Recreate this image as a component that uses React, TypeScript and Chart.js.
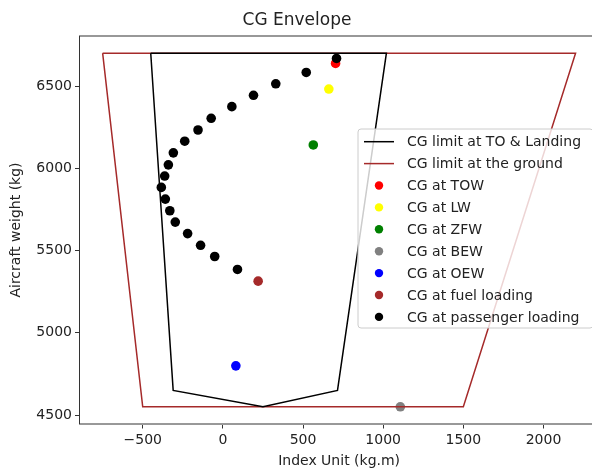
import React, { useEffect, useRef } from "react";
import { Chart, registerables } from "chart.js";

Chart.register(...registerables);

// ---- Data ----
const toLimitX = [-450, -310, 250, 715, 1020, -450];
const toLimitY = [6700, 4650, 4550, 4650, 6700, 6700];

const groundLimitX = [-750, -500, 1500, 2200, -750];
const groundLimitY = [6700, 4550, 4550, 6700, 6700];

const passengerX = [709, 520, 330, 191, 56, -73, -155, -238, -309, -340, -363, -384, -359, -331, -297, -220, -139, -51, 91];
const passengerY = [6668, 6583, 6514, 6444, 6375, 6304, 6233, 6165, 6094, 6021, 5953, 5884, 5813, 5742, 5673, 5603, 5532, 5464, 5385];

const towPoint = [703, 6638];
const lwPoint = [661, 6482];
const zfwPoint = [564, 6142];
const bewPoint = [1107, 4550];
const oewPoint = [81, 4799];
const fuelPoint = [220, 5314];

const xTicks = [-500, 0, 500, 1000, 1500, 2000];
const yTicks = [4500, 5000, 5500, 6000, 6500];

const FONT = "'DejaVu Sans', sans-serif";

const zip = (xs: number[], ys: number[]) => xs.map((x, i) => ({ x, y: ys[i] }));
const fmt = (v: number) => (v < 0 ? "\u2212" + String(Math.abs(v)) : String(v));

type LegendItem = { label: string; color: string; kind: "line" | "dot" };

const legendItems: LegendItem[] = [
  { label: "CG limit at TO & Landing", color: "#000000", kind: "line" },
  { label: "CG limit at the ground", color: "#a52a2a", kind: "line" },
  { label: "CG at TOW", color: "#ff0000", kind: "dot" },
  { label: "CG at LW", color: "#ffff00", kind: "dot" },
  { label: "CG at ZFW", color: "#008000", kind: "dot" },
  { label: "CG at BEW", color: "#808080", kind: "dot" },
  { label: "CG at OEW", color: "#0000ff", kind: "dot" },
  { label: "CG at fuel loading", color: "#a52a2a", kind: "dot" },
  { label: "CG at passenger loading", color: "#000000", kind: "dot" },
];

const decorPlugin = {
  id: "decor",
  afterDraw(chart: any) {
    const ctx = chart.ctx;
    const a = chart.chartArea;
    ctx.save();
    // spines
    ctx.strokeStyle = "#333";
    ctx.lineWidth = 1;
    ctx.strokeRect(a.left + 0.5, a.top + 0.5, a.right - a.left - 1, a.bottom - a.top - 1);

    // title
    ctx.fillStyle = "#222";
    ctx.font = `17px ${FONT}`;
    ctx.textAlign = "center";
    ctx.textBaseline = "middle";
    ctx.fillText("CG Envelope", 297, 21);

    // legend
    const boxLeft = a.left + 279;
    const boxTop = a.top + 93.5;
    const boxW = 235;
    const rowH = 21.9;
    const boxH = 199;
    ctx.beginPath();
    const r = 3;
    ctx.moveTo(boxLeft + r, boxTop);
    ctx.lineTo(boxLeft + boxW - r, boxTop);
    ctx.arcTo(boxLeft + boxW, boxTop, boxLeft + boxW, boxTop + r, r);
    ctx.lineTo(boxLeft + boxW, boxTop + boxH - r);
    ctx.arcTo(boxLeft + boxW, boxTop + boxH, boxLeft + boxW - r, boxTop + boxH, r);
    ctx.lineTo(boxLeft + r, boxTop + boxH);
    ctx.arcTo(boxLeft, boxTop + boxH, boxLeft, boxTop + boxH - r, r);
    ctx.lineTo(boxLeft, boxTop + r);
    ctx.arcTo(boxLeft, boxTop, boxLeft + r, boxTop, r);
    ctx.closePath();
    ctx.fillStyle = "rgba(255,255,255,0.8)";
    ctx.fill();
    ctx.strokeStyle = "#cccccc";
    ctx.lineWidth = 1;
    ctx.stroke();

    ctx.font = `14px ${FONT}`;
    ctx.textAlign = "left";
    ctx.textBaseline = "middle";
    legendItems.forEach((it, i) => {
      const cy = boxTop + 12.7 + i * rowH;
      if (it.kind === "line") {
        ctx.strokeStyle = it.color;
        ctx.lineWidth = 1.5;
        ctx.beginPath();
        ctx.moveTo(boxLeft + 6, cy);
        ctx.lineTo(boxLeft + 36, cy);
        ctx.stroke();
      } else {
        ctx.fillStyle = it.color;
        ctx.beginPath();
        ctx.arc(boxLeft + 21, cy, 4.2, 0, Math.PI * 2);
        ctx.fill();
      }
      ctx.fillStyle = "#222";
      ctx.fillText(it.label, boxLeft + 49, cy + 1);
    });
    ctx.restore();
  },
};

export default function App() {
  const ref = useRef<HTMLCanvasElement | null>(null);

  useEffect(() => {
    if (!ref.current) return;
    const dot = (label: string, color: string, data: { x: number; y: number }[]) => ({
      label,
      data,
      backgroundColor: color,
      borderColor: color,
      borderWidth: 0,
      pointRadius: 4.8,
      pointHoverRadius: 4.8,
      showLine: false,
    });
    const line = (label: string, color: string, data: { x: number; y: number }[]) => ({
      label,
      data,
      borderColor: color,
      backgroundColor: color,
      borderWidth: 1.5,
      pointRadius: 0,
      showLine: true,
      tension: 0,
      fill: false,
    });

    const chart = new Chart(ref.current, {
      type: "scatter",
      data: {
        datasets: [
          line("CG limit at TO & Landing", "#000000", zip(toLimitX, toLimitY)),
          line("CG limit at the ground", "#a52a2a", zip(groundLimitX, groundLimitY)),
          dot("CG at passenger loading", "#000000", zip(passengerX, passengerY)),
          dot("CG at TOW", "#ff0000", [{ x: towPoint[0], y: towPoint[1] }]),
          dot("CG at LW", "#ffff00", [{ x: lwPoint[0], y: lwPoint[1] }]),
          dot("CG at ZFW", "#008000", [{ x: zfwPoint[0], y: zfwPoint[1] }]),
          dot("CG at BEW", "#808080", [{ x: bewPoint[0], y: bewPoint[1] }]),
          dot("CG at OEW", "#0000ff", [{ x: oewPoint[0], y: oewPoint[1] }]),
          dot("CG at fuel loading", "#a52a2a", [{ x: fuelPoint[0], y: fuelPoint[1] }]),
        ] as any,
      },
      options: {
        animation: false,
        responsive: false,
        devicePixelRatio: 1,
        layout: { padding: { left: 0, right: 4.5, top: 35.5, bottom: 0 } },
        plugins: {
          legend: { display: false },
          title: { display: false },
          tooltip: { enabled: false },
        },
        scales: {
          x: {
            type: "linear",
            min: -897.5,
            max: 2347.5,
            afterBuildTicks: (s: any) => {
              s.ticks = xTicks.map((v) => ({ value: v }));
            },
            afterFit: (s: any) => {
              s.height = 46.5;
            },
            border: { display: false },
            grid: { drawOnChartArea: false, drawTicks: true, tickLength: 4, color: "#333", tickColor: "#333" },
            ticks: {
              color: "#222",
              font: { family: FONT, size: 14 },
              padding: 3,
              maxRotation: 0,
              callback: (v: any) => fmt(Number(v)),
            },
            title: {
              display: true,
              text: "Index Unit (kg.m)",
              color: "#222",
              font: { family: FONT, size: 14 },
              padding: { top: 0, bottom: 1 },
            },
          },
          y: {
            type: "linear",
            min: 4442.5,
            max: 6807.5,
            afterBuildTicks: (s: any) => {
              s.ticks = yTicks.map((v) => ({ value: v }));
            },
            afterFit: (s: any) => {
              s.width = 79;
            },
            border: { display: false },
            grid: { drawOnChartArea: false, drawTicks: true, tickLength: 4, color: "#333", tickColor: "#333" },
            ticks: {
              color: "#222",
              font: { family: FONT, size: 14 },
              padding: 3,
              callback: (v: any) => fmt(Number(v)),
            },
            title: {
              display: true,
              text: "Aircraft weight (kg)",
              color: "#222",
              font: { family: FONT, size: 14 },
              padding: { top: 8, bottom: 0 },
            },
          },
        },
      } as any,
      plugins: [decorPlugin],
    });
    return () => chart.destroy();
  }, []);

  return (
    <div
      style={{
        position: "fixed",
        left: 0,
        top: 0,
        width: 592,
        height: 471,
        overflow: "hidden",
        background: "#fff",
      }}
    >
      <canvas ref={ref} width={604} height={471} style={{ display: "block", width: 604, height: 471 }} />
    </div>
  );
}
